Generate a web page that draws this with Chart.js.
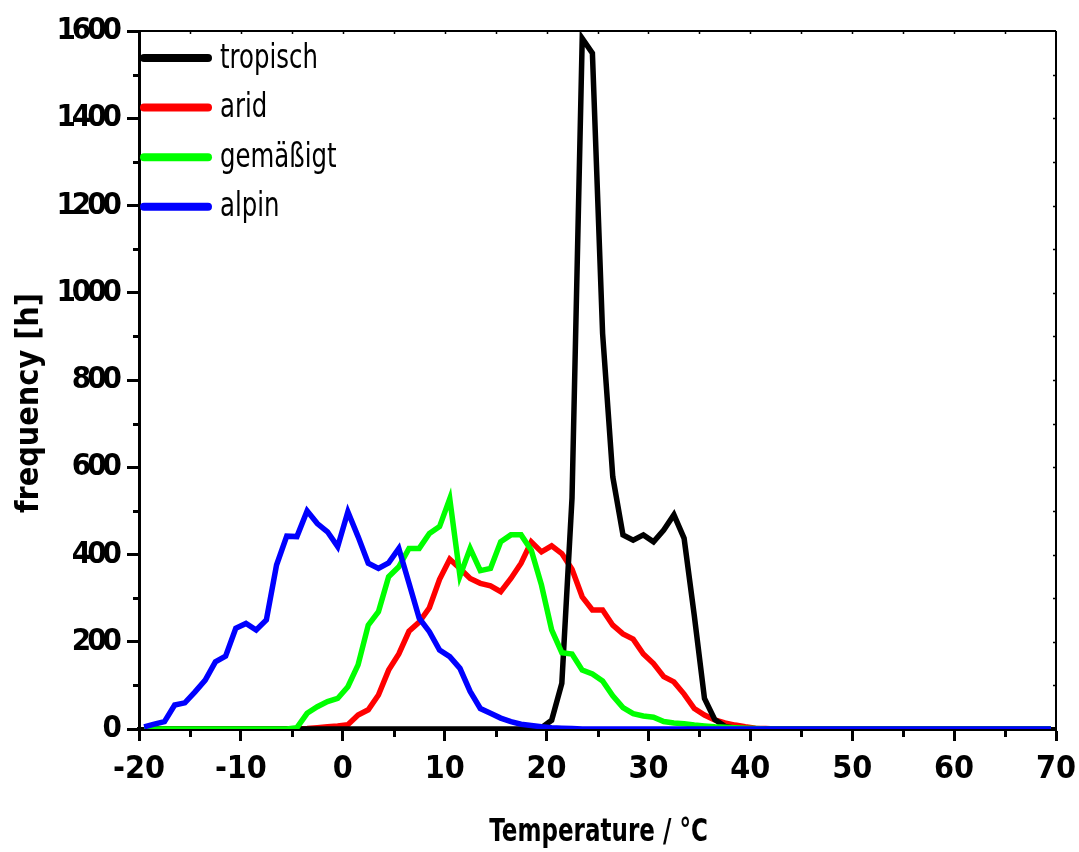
<!DOCTYPE html>
<html><head><meta charset="utf-8">
<script src="https://cdn.jsdelivr.net/npm/chart.js@4.4.1/dist/chart.umd.min.js"></script>
<style>html,body{margin:0;padding:0;background:#fff;overflow:hidden}</style>
</head><body>
<canvas id="c" width="1079" height="852"></canvas>
<script>
// ---- data ----
const temps = [
 -19.5,-18.5,-17.5,-16.5,-15.5,-14.5,-13.5,-12.5,-11.5,-10.5,
 -9.5,-8.5,-7.5,-6.5,-5.5,-4.5,-3.5,-2.5,-1.5,-0.5,
 0.5,1.5,2.5,3.5,4.5,5.5,6.5,7.5,8.5,9.5,
 10.5,11.5,12.5,13.5,14.5,15.5,16.5,17.5,18.5,19.5,
 20.5,21.5,22.5,23.5,24.5,25.5,26.5,27.5,28.5,29.5,
 30.5,31.5,32.5,33.5,34.5,35.5,36.5,37.5,38.5,39.5,
 40.5,41.5,42.5,43.5,44.5,45.5,46.5,47.5,48.5,49.5,
 50.5,51.5,52.5,53.5,54.5,55.5,56.5,57.5,58.5,59.5,
 60.5,61.5,62.5,63.5,64.5,65.5,66.5,67.5,68.5,69.5];
const tropisch = [
 0,0,0,0,0,0,0,0,0,0,
 0,0,0,0,0,0,0,0,0,0,
 0,0,0,0,0,0,0,0,0,0,
 0,0,0,0,0,0,0,0,0,3,
 20,105,530,1583,1549,907,578,445,433,445,
 429,456,491,437,260,70,22,6,2,0,
 0,0,0,0,0,0,0,0,0,0,
 0,0,0,0,0,0,0,0,0,0,
 0,0,0,0,0,0,0,0,0,0];
const arid = [
 0,0,0,0,0,0,0,0,0,0,
 0,0,0,0,0,0,1,3,5,7,
 10,32,44,78,135,172,224,245,278,343,
 389,368,345,334,328,315,345,380,429,406,
 420,402,366,303,273,273,238,218,206,172,
 150,120,108,80,47,32,21,14,9,5,
 2,1,0,0,0,0,0,0,0,0,
 0,0,0,0,0,0,0,0,0,0,
 0,0,0,0,0,0,0,0,0,0];
const gemaessigt = [
 0,0,0,0,0,0,0,0,0,0,
 0,0,0,0,0,3,36,51,63,70,
 97,147,238,269,349,372,414,414,448,464,
 528,351,414,363,368,429,445,445,410,330,
 227,175,172,135,126,110,76,49,35,30,
 27,17,14,12,9,7,5,4,3,2,
 1,0,0,0,0,0,0,0,0,0,
 0,0,0,0,0,0,0,0,0,0,
 0,0,0,0,0,0,0,0,0,0];
const alpin = [
 5,11,17,55,60,85,112,154,167,231,
 242,227,250,376,442,441,500,471,452,418,
 498,441,380,368,381,414,334,254,223,181,
 166,139,86,47,36,25,17,11,8,5,
 3,2,1,0,0,0,0,0,0,0,
 0,0,0,0,0,0,0,0,0,0,
 0,0,0,0,0,0,0,0,0,0,
 0,0,0,0,0,0,0,0,0,0,
 0,0,0,0,0,0,0,0,0,0];
const seriesNames = ['tropisch','arid','gemäßigt','alpin'];
const seriesValues = [tropisch, arid, gemaessigt, alpin];
const seriesColors = ['#000000','#ff0000','#00ff00','#0000ff'];
const drawOrder = [2, 3, 1, 0];
const xMin = -20, xMax = 70, xStep = 10;
const yMin = 0, yMax = 1600, yStep = 200;
const xTitle = 'Temperature / °C';
const yTitle = 'frequency [h]';

const FAMC = "'DejaVu Sans Condensed','DejaVu Sans',sans-serif";
const FAM = "'DejaVu Sans',sans-serif";

const framePlugin = {
  id: 'frame',
  beforeDraw(chart) {
    const ys = chart.scales.y;
    if (ys && !ys._lsPatched) {
      const orig = ys.drawLabels.bind(ys);
      ys.drawLabels = function (ca) {
        const c = this.ctx;
        c.save();
        c.letterSpacing = '-4px';
        orig(ca);
        c.restore();
      };
      ys._lsPatched = true;
    }
  },
  beforeDatasetsDraw(chart) {
    const {ctx, chartArea: a, scales: {x, y}} = chart;
    ctx.save();
    ctx.strokeStyle = '#000';
    ctx.lineWidth = 2;
    ctx.beginPath();
    ctx.moveTo(a.left, a.top); ctx.lineTo(a.right, a.top);
    ctx.moveTo(a.right, a.top); ctx.lineTo(a.right, a.bottom);
    ctx.stroke();
    ctx.lineWidth = 3;
    ctx.beginPath();
    for (let v = xMin + xStep / 2; v < xMax; v += xStep) {
      const px = Math.round(x.getPixelForValue(v)) + 0.5;
      ctx.moveTo(px, a.bottom); ctx.lineTo(px, a.bottom + 8);
    }
    for (let v = yMin + yStep / 2; v < yMax; v += yStep) {
      const py = Math.round(y.getPixelForValue(v)) + 0.5;
      ctx.moveTo(a.left, py); ctx.lineTo(a.left - 6, py);
    }
    ctx.stroke();
    ctx.lineWidth = 1.5;
    ctx.beginPath();
    for (let v = xMin + xStep / 2; v < xMax; v += xStep / 2) {
      const px = Math.round(x.getPixelForValue(v)) + 0.5;
      ctx.moveTo(px, a.top); ctx.lineTo(px, a.top + 3);
    }
    for (let v = yMin + yStep / 2; v < yMax; v += yStep / 2) {
      const py = Math.round(y.getPixelForValue(v)) + 0.5;
      ctx.moveTo(a.right, py); ctx.lineTo(a.right - 3, py);
    }
    ctx.stroke();
    ctx.restore();
  },
  afterDraw(chart) {
    const {ctx, chartArea: a} = chart;
    // legend
    seriesNames.forEach((n, i) => {
      const yy = 58 + i * 49.6;
      ctx.save();
      ctx.strokeStyle = seriesColors[i];
      ctx.lineWidth = 8;
      ctx.lineCap = 'round';
      ctx.beginPath(); ctx.moveTo(a.left + 5, yy); ctx.lineTo(a.left + 69, yy); ctx.stroke();
      ctx.translate(a.left + 81, yy + 1);
      ctx.scale(0.74, 1);
      ctx.font = "33px " + FAM;
      ctx.textBaseline = 'middle';
      ctx.textAlign = 'left';
      ctx.fillStyle = '#000';
      ctx.fillText(n, 0, 0);
      ctx.restore();
    });
    // x title
    ctx.save();
    ctx.translate((a.left + a.right) / 2 + 1, 833);
    ctx.scale(0.72, 1);
    ctx.font = "bold 32px " + FAM;
    ctx.textAlign = 'center';
    ctx.textBaseline = 'middle';
    ctx.fillStyle = '#000';
    ctx.fillText(xTitle, 0, 0);
    ctx.restore();
    // y title
    ctx.save();
    ctx.translate(30, 403);
    ctx.rotate(-Math.PI / 2);
    ctx.textAlign = 'center';
    ctx.textBaseline = 'middle';
    ctx.fillStyle = '#000';
    ctx.font = "bold 32px " + FAMC;
    ctx.fillText(yTitle, 0, 0);
    ctx.restore();
  }
};

new Chart(document.getElementById('c'), {
  type: 'line',
  data: {
    datasets: seriesNames.map((n, i) => ({
      label: n,
      data: temps.map((t, k) => ({x: t, y: seriesValues[i][k]})),
      borderColor: seriesColors[i],
      backgroundColor: seriesColors[i],
      borderWidth: 5.5,
      pointRadius: 0,
      tension: 0,
      fill: false,
      order: drawOrder[i]
    }))
  },
  options: {
    responsive: false,
    animation: false,
    devicePixelRatio: 1,
    layout: {padding: {left: 0, top: 31, right: 23, bottom: 0}},
    plugins: {legend: {display: false}, tooltip: {enabled: false}},
    scales: {
      x: {
        type: 'linear', min: xMin, max: xMax,
        afterFit(s) { s.height = 123; },
        ticks: {stepSize: xStep, color: '#000', padding: 2,
          font: {family: FAMC, weight: 'bold', size: 32, lineHeight: 1.65},
          callback: v => String(v)},
        grid: {drawOnChartArea: false, drawTicks: true, tickLength: 12, tickWidth: 3, tickColor: '#000'},
        border: {display: true, color: '#000', width: 4}
      },
      y: {
        type: 'linear', min: yMin, max: yMax,
        afterFit(s) { s.width = 139; },
        ticks: {stepSize: yStep, color: '#000', padding: 9,
          font: {family: FAMC, weight: 'bold', size: 31},
          callback: v => String(v)},
        grid: {drawOnChartArea: false, drawTicks: true, tickLength: 12, tickWidth: 3, tickColor: '#000'},
        border: {display: true, color: '#000', width: 3}
      }
    }
  },
  plugins: [framePlugin]
});
</script>
</body></html>
